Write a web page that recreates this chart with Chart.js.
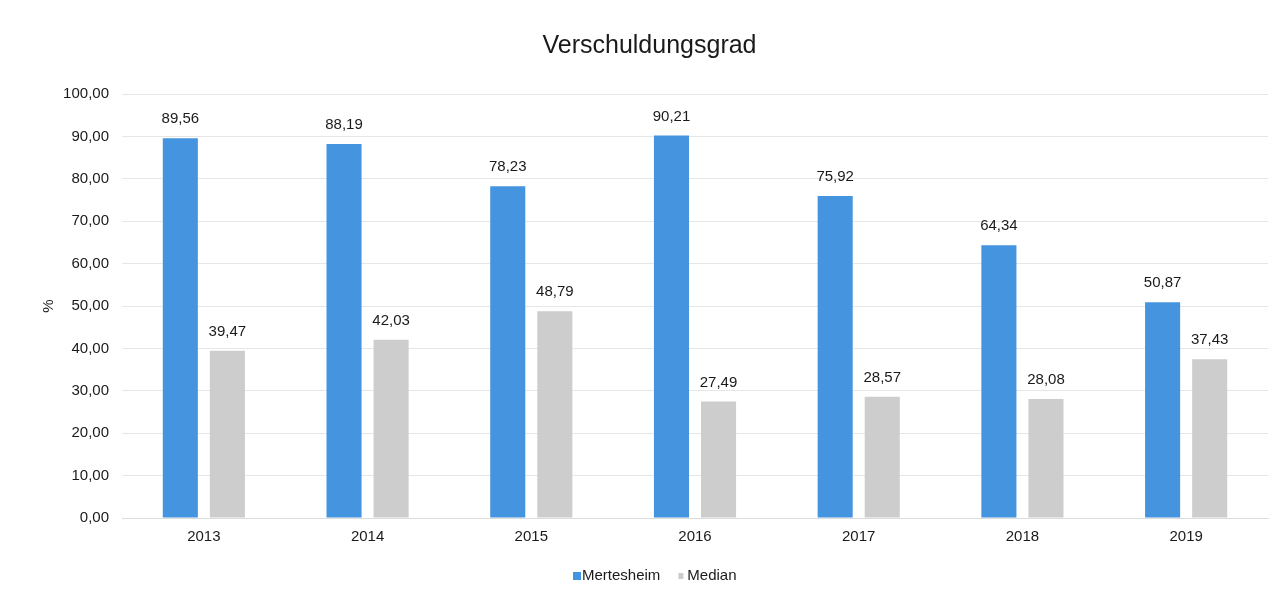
<!DOCTYPE html>
<html lang="de">
<head>
<meta charset="utf-8">
<title>Verschuldungsgrad</title>
<script src="https://cdn.jsdelivr.net/npm/chart.js@4/dist/chart.umd.min.js"></script>
<style>
    html, body { margin: 0; padding: 0; background: #fff; }
    #wrap { width: 1282px; height: 602px; }
</style>
</head>
<body>
<div id="wrap"><canvas id="grafico" width="1282" height="602"></canvas></div>
<script>
// Jahre und Werte (in %)
const jahre = ['2013', '2014', '2015', '2016', '2017', '2018', '2019'];
const mertesheim = [89.56, 88.19, 78.23, 90.21, 75.92, 64.34, 50.87];
const median = [39.47, 42.03, 48.79, 27.49, 28.57, 28.08, 37.43];
const yTicks = [0, 10, 20, 30, 40, 50, 60, 70, 80, 90, 100];

const schrift = '"Liberation Sans", Arial, sans-serif';
const blau = '#4494df';
const grau = '#cdcdcd';

// Zahl mit Komma und zwei Nachkommastellen
function fmt(v) {
    return v.toFixed(2).replace('.', ',');
}

// Werte über den Balken
const wertLabels = {
    id: 'wertLabels',
    afterDatasetsDraw(chart) {
        const ctx = chart.ctx;
        ctx.save();
        ctx.font = '15px ' + schrift;
        ctx.fillStyle = '#1a1a1a';
        ctx.textAlign = 'center';
        ctx.textBaseline = 'middle';
        chart.data.datasets.forEach((ds, i) => {
            chart.getDatasetMeta(i).data.forEach((bar, j) => {
                ctx.fillText(fmt(ds.data[j]), bar.x, bar.y - 19);
            });
        });
        ctx.restore();
    }
};

// Legende unten, eng gesetzt
const legende = {
    id: 'legende',
    afterDraw(chart) {
        const ctx = chart.ctx;
        ctx.save();
        ctx.font = '15px ' + schrift;
        ctx.textBaseline = 'middle';
        let x = 573;
        const y = 576;
        chart.data.datasets.forEach((ds, i) => {
            ctx.fillStyle = ds.backgroundColor;
            if (i === 0) {
                ctx.fillRect(x, y - 4, 8, 8);
                x += 9;
            } else {
                ctx.fillRect(x + 1, y - 3, 5, 6);
                x += 10;
            }
            ctx.fillStyle = '#1a1a1a';
            ctx.fillText(ds.label, x, y);
            x += ctx.measureText(ds.label).width + 17;
        });
        ctx.restore();
    }
};

const ctx = document.getElementById('grafico').getContext('2d');

new Chart(ctx, {
    type: 'bar',
    data: {
        labels: jahre,
        datasets: [{
            label: 'Mertesheim',
            data: mertesheim,
            backgroundColor: blau,
            categoryPercentage: 0.575,
            barPercentage: 0.745
        }, {
            label: 'Median',
            data: median,
            backgroundColor: grau,
            categoryPercentage: 0.575,
            barPercentage: 0.745
        }]
    },
    options: {
        responsive: false,
        animation: false,
        layout: {
            padding: { left: 31, right: 14, top: 0, bottom: 0 }
        },
        plugins: {
            title: {
                display: true,
                text: 'Verschuldungsgrad',
                color: '#1a1a1a',
                font: { family: schrift, size: 25, weight: 'normal' },
                padding: { top: 31, bottom: 33 }
            },
            legend: { display: false },
            tooltip: { enabled: false }
        },
        scales: {
            x: {
                grid: { display: false, drawTicks: false },
                border: { color: '#dcdcdc' },
                ticks: {
                    color: '#1a1a1a',
                    font: { family: schrift, size: 15 },
                    padding: 10
                },
                afterFit(scale) { scale.height = 84; }
            },
            y: {
                min: 0,
                max: 100,
                afterBuildTicks(scale) {
                    scale.ticks = yTicks.map(v => ({ value: v }));
                },
                grid: { color: '#e6e6e6', drawTicks: false },
                border: { display: false },
                ticks: {
                    color: '#1a1a1a',
                    font: { family: schrift, size: 15 },
                    padding: 13,
                    callback: v => fmt(v)
                },
                title: {
                    display: true,
                    text: '%',
                    color: '#1a1a1a',
                    font: { family: schrift, size: 15 },
                    padding: { top: 9, bottom: 0 }
                },
                afterFit(scale) { scale.width = 91; }
            }
        }
    },
    plugins: [wertLabels, legende]
});
</script>
</body>
</html>
